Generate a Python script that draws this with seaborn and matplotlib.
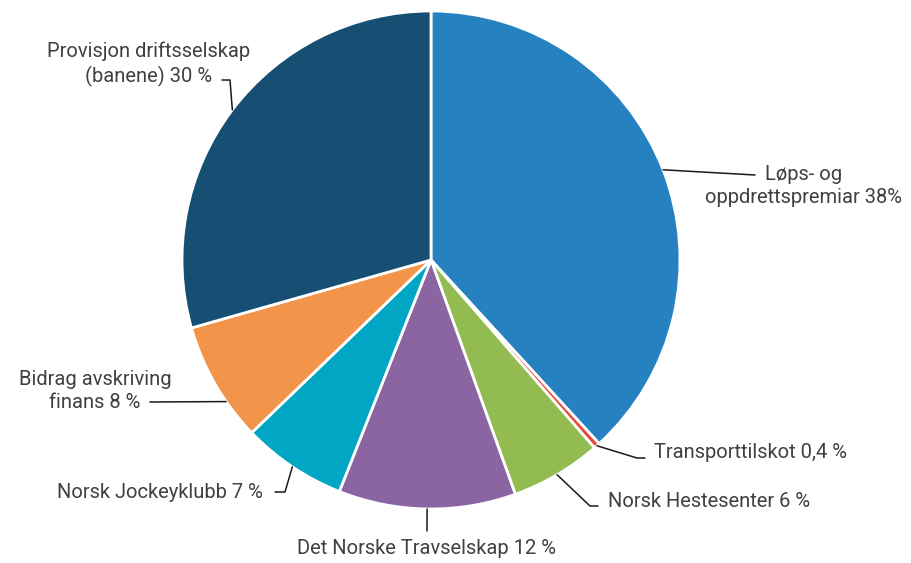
import matplotlib
matplotlib.use("Agg")
import matplotlib.pyplot as plt
import numpy as np
import seaborn as sns

# Shares of the budget, clockwise from the top
labels = [
    "Løps- og\noppdrettspremiar 38%",
    "Transporttilskot 0,4 %",
    "Norsk Hestesenter 6 %",
    "Det Norske Travselskap 12 %",
    "Norsk Jockeyklubb 7 %",
    "Bidrag avskriving\nfinans 8 %",
    "Provisjon driftsselskap\n(banene) 30 %",
]
values = [38.2, 0.4, 5.9, 11.5, 6.8, 7.8, 29.4]
colors = ["#2581c0", "#e8473c", "#92bc52", "#8a65a1", "#00a6c3", "#f2944a", "#174e74"]

sns.set_theme(style="white")
plt.rcParams["font.family"] = ["Roboto", "DejaVu Sans"]

W, H = 912, 563
fig = plt.figure(figsize=(W / 100, H / 100), dpi=100)
ax = fig.add_axes([0, 0, 1, 1])

cx, cy, r = 431, H - 260, 249
wedges, _ = ax.pie(values, colors=colors, startangle=90, counterclock=False,
                   radius=r, center=(cx, cy),
                   wedgeprops=dict(edgecolor="white", linewidth=2))
ax.set_xlim(0, W)
ax.set_ylim(0, H)
ax.set_aspect("equal")
ax.axis("off")


def px(x, y):
    return x, H - y


# label layout: (fraction along wedge for leader start, leader bend points, text pos, ha)
layout = [
    (0.5, [(755, 175)], (804, 186), "center"),
    (0.5, [(637, 458), (645, 458)], (654, 452), "left"),
    (0.5, [(590, 506), (598, 506)], (608, 502), "left"),
    (0.5, [(427, 531)], (427, 549), "center"),
    (0.5, [(285, 492), (275, 492)], (263, 492), "right"),
    (0.67, [(150, 402)], (95, 391), "center"),
    (0.5, [(230, 80), (222, 80)], (149, 64), "center"),
]

for w, lab, (frac, pts, tpos, ha) in zip(wedges, labels, layout):
    ang = np.deg2rad(w.theta1 + frac * (w.theta2 - w.theta1))
    xs = [cx + r * np.cos(ang)] + [px(*p)[0] for p in pts]
    ys = [cy + r * np.sin(ang)] + [px(*p)[1] for p in pts]
    ax.plot(xs, ys, color="#1a1a1a", lw=1.1)
    ax.text(*px(*tpos), lab, ha=ha, va="center", multialignment="center",
            fontsize=14.5, color="#404040", linespacing=1.3)

fig.savefig("out.png", dpi=100)
